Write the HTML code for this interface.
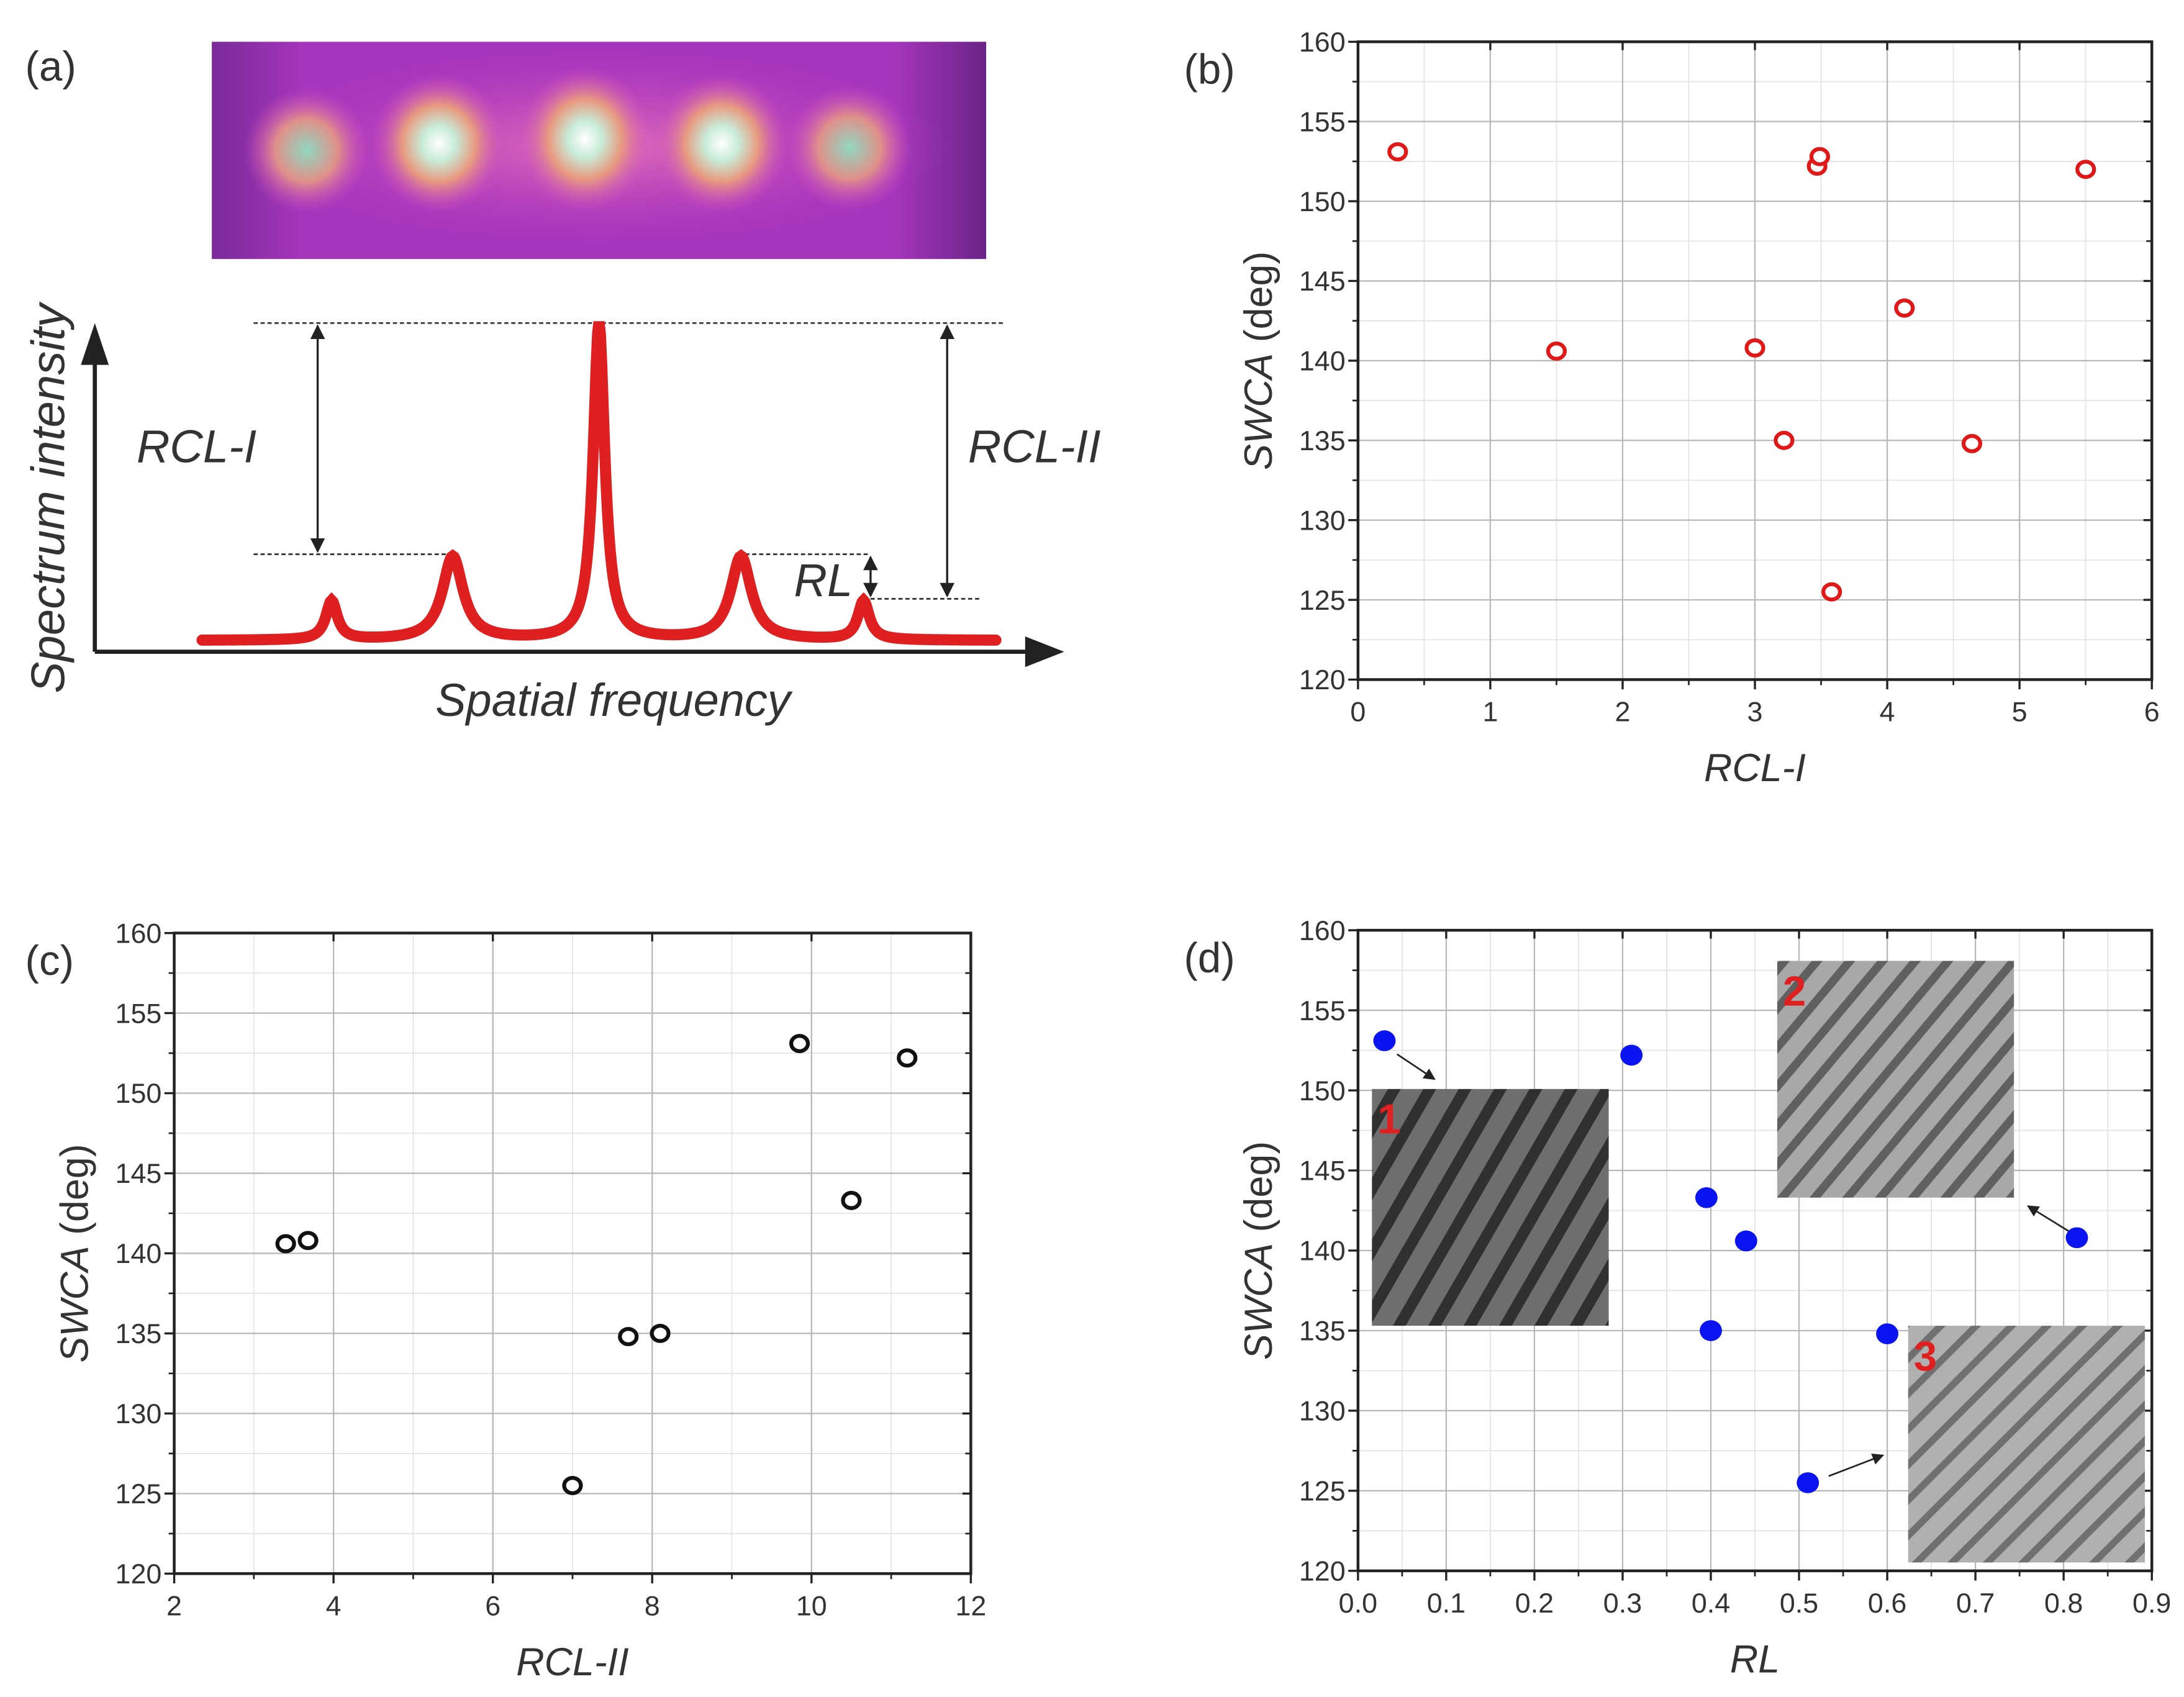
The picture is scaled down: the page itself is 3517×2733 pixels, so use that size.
<!DOCTYPE html>
<html><head><meta charset="utf-8"><style>
html,body{margin:0;padding:0;background:#fff}
svg{display:block}
text{font-family:"Liberation Sans",sans-serif;fill:#333}
</style></head><body>
<svg id="fig" xmlns="http://www.w3.org/2000/svg" width="3517" height="2733" viewBox="0 0 1568 1218.6">
<defs>
<radialGradient id="spot" cx="50%" cy="50%" r="50%">
<stop offset="0" stop-color="#ffffff"/><stop offset="0.25" stop-color="#c8ecd8"/><stop offset="0.55" stop-color="#e89a80"/><stop offset="1" stop-color="#d050c0" stop-opacity="0"/>
</radialGradient>
<radialGradient id="spotw" cx="50%" cy="50%" r="50%">
<stop offset="0" stop-color="#90d8c0"/><stop offset="0.5" stop-color="#e0908a"/><stop offset="1" stop-color="#d050c0" stop-opacity="0"/>
</radialGradient>
<radialGradient id="glow" cx="50%" cy="50%" r="50%">
<stop offset="0" stop-color="#e070b8"/><stop offset="1" stop-color="#c040c0" stop-opacity="0"/>
</radialGradient>
<linearGradient id="edge" x1="0" x2="1"><stop offset="0" stop-color="#7a2a98"/><stop offset="0.12" stop-color="#a636bc"/><stop offset="0.88" stop-color="#a636bc"/><stop offset="1" stop-color="#6a2488"/></linearGradient>
<pattern id="stripes1" width="22" height="22" patternUnits="userSpaceOnUse" patternTransform="rotate(-60)">
<rect width="22" height="22" fill="#6e6e6e"/><rect width="22" height="8" fill="#303030"/></pattern>
<pattern id="stripes2" width="18" height="18" patternUnits="userSpaceOnUse" patternTransform="rotate(-50)">
<rect width="18" height="18" fill="#a8a8a8"/><rect width="18" height="6" fill="#606060"/></pattern>
<pattern id="stripes3" width="18" height="18" patternUnits="userSpaceOnUse" patternTransform="rotate(-45)">
<rect width="18" height="18" fill="#b0b0b0"/><rect width="18" height="5" fill="#707070"/></pattern>
<marker id="ah" viewBox="0 0 10 10" refX="9" refY="5" markerWidth="7" markerHeight="7" orient="auto-start-reverse"><path d="M0,0 L10,5 L0,10 z" fill="#222"/></marker>
</defs>

<g>
<text x="18" y="58" font-size="30">(a)</text>
<g>
<rect x="152" y="30" width="556" height="156" fill="url(#edge)"/>
<ellipse cx="430" cy="105" rx="250" ry="70" fill="url(#glow)"/>
<ellipse cx="220" cy="108" rx="45" ry="45" fill="url(#spotw)"/>
<ellipse cx="315" cy="103" rx="48" ry="50" fill="url(#spot)"/>
<ellipse cx="420" cy="100" rx="48" ry="52" fill="url(#spot)"/>
<ellipse cx="518" cy="103" rx="48" ry="50" fill="url(#spot)"/>
<ellipse cx="610" cy="106" rx="45" ry="45" fill="url(#spotw)"/>
</g>
<g stroke="#333" stroke-width="1.2" stroke-dasharray="3,2">
<line x1="182" y1="232" x2="720" y2="232"/>
<line x1="182" y1="398" x2="325" y2="398"/>
<line x1="530" y1="398" x2="625" y2="398"/>
<line x1="625" y1="430" x2="705" y2="430"/>
</g>
<g stroke="#222" stroke-width="1.5">
<line x1="228" y1="234" x2="228" y2="396" marker-start="url(#ah)" marker-end="url(#ah)"/>
<line x1="680" y1="234" x2="680" y2="428" marker-start="url(#ah)" marker-end="url(#ah)"/>
<line x1="625" y1="400" x2="625" y2="428" marker-start="url(#ah)" marker-end="url(#ah)"/>
</g>
<g>
<line x1="68" y1="468" x2="68" y2="258" stroke="#222" stroke-width="3"/>
<path d="M58,262 L68,232 L78,262 z" fill="#222"/>
<line x1="68" y1="468" x2="740" y2="468" stroke="#222" stroke-width="3"/>
<path d="M736,457 L764,468 L736,479 z" fill="#222"/>
</g>
<path id="specCurve" fill="none" stroke="#e02020" stroke-width="8" stroke-linecap="round"/>
<text x="98" y="332" font-size="33" font-style="italic">RCL-I</text>
<text x="695" y="332" font-size="33" font-style="italic">RCL-II</text>
<text x="570" y="428" font-size="33" font-style="italic">RL</text>
<text x="440" y="514" font-size="33" font-style="italic" text-anchor="middle">Spatial frequency</text>
<text transform="translate(46,358) rotate(-90)" font-size="34" font-style="italic" text-anchor="middle">Spectrum intensity</text>
</g>

<g id="panelB"></g>
<g id="panelC"></g>
<g id="panelD"></g>
</svg>
<script>
const peakX = [238, 325, 430, 532, 620];
const peakH = [28, 60, 228, 60, 28];
const peakW = [5, 9, 5, 9, 5];

const bX = [0.3, 1.5, 3.0, 3.22, 3.47, 3.49, 3.58, 4.13, 4.64, 5.5];
const bY = [153.1, 140.6, 140.8, 135.0, 152.2, 152.8, 125.5, 143.3, 134.8, 152.0];
const bXTicks = ['0','1','2','3','4','5','6'];
const cX = [3.4, 3.68, 7.0, 7.7, 8.1, 9.85, 10.5, 11.2];
const cY = [140.6, 140.8, 125.5, 134.8, 135.0, 153.1, 143.3, 152.2];
const cXTicks = ['2','4','6','8','10','12'];
const dX = [0.03, 0.31, 0.395, 0.44, 0.40, 0.60, 0.51, 0.815];
const dY = [153.1, 152.2, 143.3, 140.6, 135.0, 134.8, 125.5, 140.8];
const dXTicks = ['0.0','0.1','0.2','0.3','0.4','0.5','0.6','0.7','0.8','0.9'];
const yTicks = ['120','125','130','135','140','145','150','155','160'];

const NS = 'http://www.w3.org/2000/svg';
function mk(tag, attrs, parent){
  const e = document.createElementNS(NS, tag);
  for (const k in attrs) e.setAttribute(k, attrs[k]);
  parent.appendChild(e); return e;
}

(function(){
  let d = '';
  for (let x = 145; x <= 715; x += 1) {
    let y = 0;
    for (let i = 0; i < peakX.length; i++) {
      const u = (x - peakX[i]) / peakW[i];
      y += peakH[i] / (1 + u*u);
    }
    d += (x === 145 ? 'M' : 'L') + x + ',' + (460 - y).toFixed(2);
  }
  document.getElementById('specCurve').setAttribute('d', d);
})();

function panel(gid, box, xmin, xmax, xTicks, xMinorStep, xlabel, plabel, plx, xs, ys, style) {
  const g = document.getElementById(gid);
  const [L, R, T, B] = box;
  const sx = v => L + (v - xmin) / (xmax - xmin) * (R - L);
  const sy = v => B - (v - 120) / 40 * (B - T);
  for (let v = xmin; v <= xmax + 1e-9; v += xMinorStep) {
    const l = mk('line', {x1:sx(v), x2:sx(v), y1:T, y2:B, stroke:'#e4e4e4', 'stroke-width':0.8}, g);
    
    
  }
  for (let v = 122.5; v < 160; v += 5) {
    const l = mk('line', {x1:L, x2:R, y1:sy(v), y2:sy(v), stroke:'#e4e4e4', 'stroke-width':0.8}, g);
    
    
  }
  xTicks.forEach(t => {
    const v = parseFloat(t), x = sx(v);
    const l = mk('line', {x1:x, x2:x, y1:T, y2:B, stroke:'#b8b8b8', 'stroke-width':1}, g);
    
    
    mk('line', {x1:x, x2:x, y1:B, y2:B+7, stroke:'#222', 'stroke-width':1.5}, g);
    mk('line', {x1:x, x2:x, y1:T, y2:T+6, stroke:'#222', 'stroke-width':1.5}, g);
    const tx = mk('text', {x:x, y:B+30, 'font-size':20, 'text-anchor':'middle'}, g);
    tx.textContent = t;
    
    
  });
  for (let v = xmin; v <= xmax + 1e-9; v += xMinorStep) {
    mk('line', {x1:sx(v), x2:sx(v), y1:B, y2:B+4, stroke:'#222', 'stroke-width':1.2}, g);
  }
  yTicks.forEach(t => {
    const v = parseFloat(t), y = sy(v);
    const l = mk('line', {x1:L, x2:R, y1:y, y2:y, stroke:'#b8b8b8', 'stroke-width':1}, g);
    
    
    mk('line', {x1:L-7, x2:L, y1:y, y2:y, stroke:'#222', 'stroke-width':1.5}, g);
    mk('line', {x1:R-6, x2:R, y1:y, y2:y, stroke:'#222', 'stroke-width':1.5}, g);
    const tx = mk('text', {x:L-9, y:y+7, 'font-size':20, 'text-anchor':'end'}, g);
    tx.textContent = t;
    
    
  });
  for (let v = 122.5; v < 160; v += 5) {
    mk('line', {x1:L-4, x2:L, y1:sy(v), y2:sy(v), stroke:'#222', 'stroke-width':1.2}, g);
    mk('line', {x1:R-4, x2:R, y1:sy(v), y2:sy(v), stroke:'#222', 'stroke-width':1.2}, g);
  }
  const fr = mk('rect', {x:L, y:T, width:R-L, height:B-T, fill:'none', stroke:'#222', 'stroke-width':2}, g);
  
  
  const xl = mk('text', {x:(L+R)/2, y:B+73, 'font-size':28, 'font-style':'italic', 'text-anchor':'middle'}, g);
  xl.textContent = xlabel;
  
  
  const yl = mk('text', {transform:'translate('+(L-62)+','+((T+B)/2)+') rotate(-90)', 'font-size':28, 'text-anchor':'middle'}, g);
  yl.innerHTML = '<tspan font-style="italic">SWCA</tspan> (deg)';
  
  
  const pl = mk('text', {x:plx, y:T+30, 'font-size':30}, g);
  pl.textContent = plabel;
  
  
  return {g, sx, sy, draw(){
    xs.forEach((xv, i) => {
      let c;
      if (style === 'filled') c = mk('ellipse', {cx:sx(xv), cy:sy(ys[i]), rx:8, ry:7.5, fill:'#0a14f0'}, g);
      else c = mk('ellipse', {cx:sx(xv), cy:sy(ys[i]), rx:6, ry:5.5, fill:'#fff', stroke:style, 'stroke-width':2.8}, g);
      
      
    });
  }};
}

const pb = panel('panelB', [975, 1545, 30, 488], 0, 6, bXTicks, 0.5, 'RCL-I', '(b)', 850, bX, bY, '#e01818');
pb.draw();
const pc = panel('panelC', [125, 697, 670, 1130], 2, 12, cXTicks, 1, 'RCL-II', '(c)', 18, cX, cY, '#111');
pc.draw();
const pd = panel('panelD', [975, 1545, 668, 1128], 0, 0.9, dXTicks, 0.05, 'RL', '(d)', 850, dX, dY, 'filled');

(function(){
  const g = document.getElementById('panelD');
  const insets = [[985,782,'url(#stripes1)','1'],[1276,690,'url(#stripes2)','2'],[1370,952,'url(#stripes3)','3']];
  insets.forEach(s => {
    const r = mk('rect', {x:s[0], y:s[1], width:170, height:170, fill:s[2]}, g);
    
    
    const t = mk('text', {x:s[0]+4, y:s[1]+32, 'font-size':30, 'font-weight':'bold', style:'fill:#e02020'}, g);
    t.textContent = s[3];
    
    
  });
  const arr = [[1003,757,1030,775],[1490,887,1456,866],[1313,1060,1352,1045]];
  arr.forEach(a => {
    const l = mk('line', {x1:a[0], y1:a[1], x2:a[2], y2:a[3], stroke:'#222', 'stroke-width':1.2, 'marker-end':'url(#ah)'}, g);
    
    
  });
})();
pd.draw();
</script>
</body></html>
